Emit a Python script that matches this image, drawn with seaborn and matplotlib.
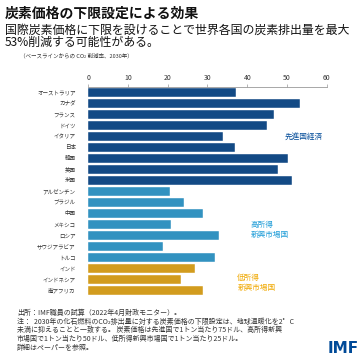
import matplotlib
matplotlib.use("Agg")
import matplotlib.pyplot as plt
import pandas as pd
import seaborn as sns

countries = [
    "オーストラリア", "カナダ", "フランス", "ドイツ", "イタリア", "日本", "韓国", "英国", "米国",
    "アルゼンチン", "ブラジル", "中国", "メキシコ", "ロシア", "サウジアラビア", "トルコ",
    "インド", "インドネシア", "南アフリカ",
]
reduction = [
    37.1, 53.3, 46.6, 45.0, 34.0, 37.0, 50.3, 47.6, 51.2,
    20.7, 24.2, 28.9, 20.8, 32.8, 18.7, 31.8,
    26.9, 23.4, 28.9,
]
groups = ["先進国経済"] * 9 + ["高所得新興市場国"] * 7 + ["低所得新興市場国"] * 3
group_colors = {
    "先進国経済": "#004A98",
    "高所得新興市場国": "#1B9BD7",
    "低所得新興市場国": "#F0A800",
}

df = pd.DataFrame({"country": countries, "value": reduction, "group": groups})

sns.set_theme(style="white")
plt.rcParams["font.family"] = ["Noto Sans CJK JP", "DejaVu Sans"]

fig = plt.figure(figsize=(3.64, 3.64), dpi=100)
ax = fig.add_axes([0.242, 0.187, 0.656, 0.574])

sns.barplot(
    data=df, y="country", x="value", hue="group", palette=group_colors,
    dodge=False, width=0.8, edgecolor="white", linewidth=0.3, legend=False, ax=ax,
)

ax.set_xlim(0, 60)
ax.set_xticks(range(0, 61, 10))
ax.xaxis.tick_top()
ax.tick_params(axis="x", top=True, direction="out", length=2, width=0.5,
               colors="#999999", labelcolor="#333333", labelsize=5, pad=1.5)
ax.tick_params(axis="y", left=False, labelsize=4, labelcolor="#333333", pad=3)
ax.set_xlabel("")
ax.set_ylabel("")
for s in ["right", "bottom", "left"]:
    ax.spines[s].set_visible(False)
ax.spines["top"].set_color("#999999")
ax.spines["top"].set_linewidth(0.6)

# group labels
ax.text(49.5, 4, "先進国経済", color=group_colors["先進国経済"], fontsize=5.5, va="center")
ax.text(40.8, 12.5, "高所得\n新興市場国", color=group_colors["高所得新興市場国"],
        fontsize=5.5, va="center", linespacing=1.3)
ax.text(37.5, 17.3, "低所得\n新興市場国", color=group_colors["低所得新興市場国"],
        fontsize=5.5, va="center", linespacing=1.3)

# header
fig.text(0.014, 0.962, "炭素価格の下限設定による効果", fontsize=10, fontweight="bold",
         color="#111111", va="center")
fig.text(0.014, 0.9, "国際炭素価格に下限を設けることで世界各国の炭素排出量を最大\n53%削減する可能性がある。",
         fontsize=8.6, color="#111111", va="center", linespacing=0.95)
fig.text(0.055, 0.846, "（ベースラインからの CO₂ 削減率、2030年）", fontsize=4.0,
         color="#333333", va="center")

# footer
footer = (
    "出所：IMF職員の試算（2022年4月財政モニター）。\n"
    "注：  2030年の化石燃料のCO₂排出量に対する炭素価格の下限設定は、地球温暖化を2゜C\n"
    "未満に抑えることと一致する。 炭素価格は先進国で1トン当たり75ドル、高所得新興\n"
    "市場国で1トン当たり50ドル、低所得新興市場国で1トン当たり25ドル。\n"
    "詳細はペーパーを参照。"
)
fig.text(0.047, 0.152, footer, fontsize=5.0, color="#333333", va="top", linespacing=1.15)
fig.text(0.985, 0.043, "IMF", fontsize=11, fontweight="bold", color="#004A98",
         ha="right", va="center", family=["DejaVu Sans"])

fig.savefig("out.png", dpi=100)
